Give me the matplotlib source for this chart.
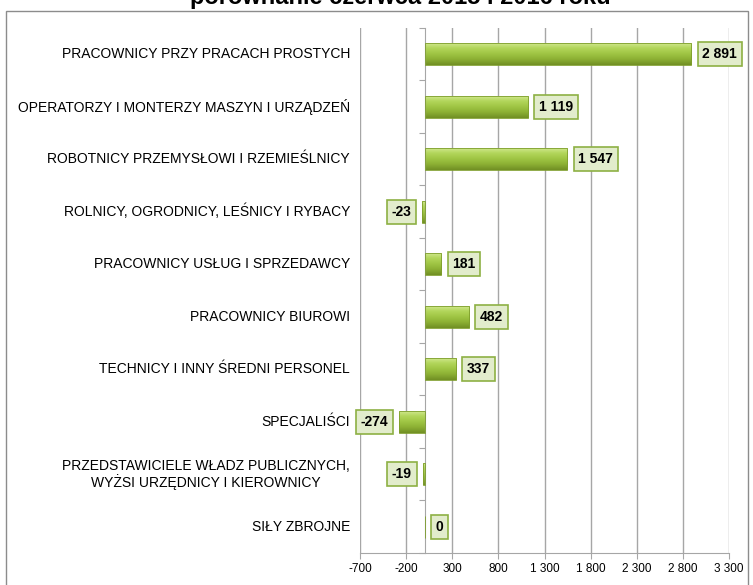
import numpy as np
import matplotlib.pyplot as plt
from matplotlib.colors import LinearSegmentedColormap
from matplotlib.patches import Rectangle
import matplotlib.transforms as mtransforms

plt.rcParams['font.family'] = ['Liberation Sans', 'DejaVu Sans']

categories = [
    'PRACOWNICY PRZY PRACACH PROSTYCH',
    'OPERATORZY I MONTERZY MASZYN I URZĄDZEŃ',
    'ROBOTNICY PRZEMYSŁOWI I RZEMIEŚLNICY',
    'ROLNICY, OGRODNICY, LEŚNICY I RYBACY',
    'PRACOWNICY USŁUG I SPRZEDAWCY',
    'PRACOWNICY BIUROWI',
    'TECHNICY I INNY ŚREDNI PERSONEL',
    'SPECJALIŚCI',
    'PRZEDSTAWICIELE WŁADZ PUBLICZNYCH,\nWYŻSI URZĘDNICY I KIEROWNICY',
    'SIŁY ZBROJNE',
]
values = [2891, 1119, 1547, -23, 181, 482, 337, -274, -19, 0]
xticks = [-700, -200, 300, 800, 1300, 1800, 2300, 2800, 3300]
title = 'porównanie czerwca 2015 i 2016 roku'


def fmt(v):
    s = f'{abs(v):,}'.replace(',', ' ')
    return ('-' if v < 0 else '') + s


fig = plt.figure(figsize=(7.53, 5.85), dpi=100)
ax = fig.add_axes([360 / 753, 1 - 553 / 585, 369 / 753, 525 / 585])

grid_c = '#A6A6A6'
y = np.arange(len(categories))
bars = ax.barh(y, values, height=0.42, color='none', edgecolor='#7E9E2C',
               linewidth=0.6, zorder=3)

# vertical gradient inside each bar, light on top, darker below
cmap = LinearSegmentedColormap.from_list(
    'g', ['#D6EB96', '#B3D65C', '#A0C644', '#8CB034', '#718F24'])
grad = np.linspace(0, 1, 64).reshape(-1, 1)
for b in bars:
    x0, w = b.get_x(), b.get_width()
    if w == 0:
        continue
    y0, h = b.get_y(), b.get_height()
    im = ax.imshow(grad, extent=[x0, x0 + w, y0 + h, y0], origin='upper',
                   aspect='auto', cmap=cmap, zorder=2)
    im.set_clip_path(b)

for yi, v in zip(y, values):
    if v < 0:
        off, ha = -8, 'right'
    else:
        off, ha = 8, 'left'
    ax.annotate(fmt(v), (v, yi), xytext=(off, 0), textcoords='offset points',
                ha=ha, va='center', fontsize=10, fontweight='bold', zorder=5,
                bbox=dict(boxstyle='square,pad=0.35', fc='#E2ECCC',
                          ec='#8DB044', lw=1.2))

ax.set_xlim(-700, 3300)
ax.set_ylim(len(categories) - 0.5, -0.5)
ax.set_xticks(xticks)
ax.set_xticklabels([fmt(t) for t in xticks], fontsize=8.5)
ax.xaxis.grid(True, color=grid_c, linewidth=1, zorder=0)
ax.set_axisbelow(True)

ax.spines['left'].set_position(('data', 0))
ax.spines['left'].set_color(grid_c)
ax.spines['bottom'].set_color(grid_c)
ax.spines['top'].set_visible(False)
ax.spines['right'].set_visible(False)
ax.set_yticks(np.arange(len(categories) + 1) - 0.5)
ax.set_yticklabels([])
ax.tick_params(axis='y', length=4, color=grid_c, direction='out')
ax.tick_params(axis='x', length=4, color=grid_c, direction='out', pad=3)

trans = mtransforms.blended_transform_factory(ax.transAxes, ax.transData)
for yi, c in zip(y, categories):
    ax.text(-0.027, yi, c, transform=trans, ha='right', va='center',
            fontsize=10, multialignment='center', linespacing=1.1)

fig.text(400 / 753, 1 - 4 / 585, title, ha='center', va='baseline',
         fontsize=17, fontweight='bold')
fig.patches.append(Rectangle((6 / 753, -0.05), 742 / 753, 1.05 - 11 / 585,
                             transform=fig.transFigure, fill=False,
                             ec='#8C8C8C', lw=1))

fig.savefig('out.png', dpi=100)
